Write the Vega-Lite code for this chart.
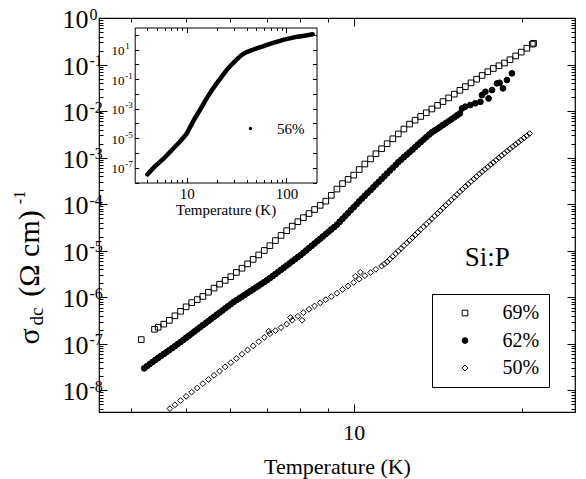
{
"$schema":"https://vega.github.io/schema/vega-lite/v6.json",
"width":476,"height":394,
"autosize":{"type":"none"},
"padding":{"left":99,"top":18,"right":11,"bottom":67},
"background":"white",
"config":{
 "font":"Liberation Serif",
 "view":{"stroke":"black","strokeWidth":1.2},
 "axis":{"grid":false,"domain":false,"domainColor":"black","domainWidth":1,"tickColor":"black","tickWidth":1,"labelColor":"black","titleColor":"black","labelFont":"Liberation Serif","titleFont":"Liberation Serif","titleFontWeight":"normal","labelFlush":false,"labelOverlap":false},
 "legend":{"labelFont":"Liberation Serif","labelColor":"black"},
 "text":{"font":"Liberation Serif","color":"black"}
},
"datasets":{
"note":[{"label":"Si:P","T":17.35,"sigma":4.64e-6}],
"inset":[
{"series":"56%","T":4.02,"sigma":3.53e-8},{"series":"56%","T":4.79,"sigma":1.23e-7},{"series":"56%","T":5.80,"sigma":3.94e-7},{"series":"56%","T":7.32,"sigma":2.02e-6},{"series":"56%","T":8.56,"sigma":6.03e-6},{"series":"56%","T":10.0,"sigma":2.09e-5},{"series":"56%","T":10.80,"sigma":5.75e-5},{"series":"56%","T":11.85,"sigma":1.85e-4},{"series":"56%","T":13.62,"sigma":8.77e-4},{"series":"56%","T":15.92,"sigma":5.42e-3},{"series":"56%","T":17.89,"sigma":1.83e-2},{"series":"56%","T":20.09,"sigma":5.60e-2},{"series":"56%","T":22.57,"sigma":0.161},{"series":"56%","T":25.35,"sigma":0.445},{"series":"56%","T":28.48,"sigma":1.05},{"series":"56%","T":31.99,"sigma":2.28},{"series":"56%","T":35.37,"sigma":4.25},{"series":"56%","T":38.82,"sigma":6.27},{"series":"56%","T":43.60,"sigma":8.55},{"series":"56%","T":50.93,"sigma":12.6},{"series":"56%","T":58.98,"sigma":17.3},{"series":"56%","T":69.3,"sigma":25.5},{"series":"56%","T":81.1,"sigma":34.8},{"series":"56%","T":94.6,"sigma":47.4},{"series":"56%","T":110.4,"sigma":60.0},{"series":"56%","T":129.1,"sigma":75.7},{"series":"56%","T":150.6,"sigma":88.5},{"series":"56%","T":183.2,"sigma":111.7}
],
"main":[
{"series":"69%","T":4.166,"sigma":1.23e-7},{"series":"69%","T":4.40,"sigma":2.05e-7},{"series":"69%","T":4.467,"sigma":2.27e-7},{"series":"69%","T":4.571,"sigma":2.64e-7},{"series":"69%","T":4.677,"sigma":3.19e-7},{"series":"69%","T":4.786,"sigma":3.99e-7},{"series":"69%","T":4.898,"sigma":4.99e-7},{"series":"69%","T":5.012,"sigma":6.22e-7},{"series":"69%","T":5.129,"sigma":7.67e-7},{"series":"69%","T":5.248,"sigma":8.89e-7},{"series":"69%","T":5.370,"sigma":1.04e-6},{"series":"69%","T":5.495,"sigma":1.28e-6},{"series":"69%","T":5.623,"sigma":1.57e-6},{"series":"69%","T":5.754,"sigma":1.91e-6},{"series":"69%","T":5.888,"sigma":2.30e-6},{"series":"69%","T":6.026,"sigma":2.77e-6},{"series":"69%","T":6.166,"sigma":3.41e-6},{"series":"69%","T":6.310,"sigma":4.20e-6},{"series":"69%","T":6.457,"sigma":5.21e-6},{"series":"69%","T":6.607,"sigma":6.50e-6},{"series":"69%","T":6.761,"sigma":8.11e-6},{"series":"69%","T":6.918,"sigma":1.01e-5},{"series":"69%","T":7.079,"sigma":1.28e-5},{"series":"69%","T":7.244,"sigma":1.65e-5},{"series":"69%","T":7.413,"sigma":2.13e-5},{"series":"69%","T":7.586,"sigma":2.69e-5},{"series":"69%","T":7.762,"sigma":3.37e-5},{"series":"69%","T":7.943,"sigma":4.20e-5},{"series":"69%","T":8.128,"sigma":5.13e-5},{"series":"69%","T":8.318,"sigma":6.28e-5},{"series":"69%","T":8.511,"sigma":7.67e-5},{"series":"69%","T":8.710,"sigma":9.44e-5},{"series":"69%","T":8.913,"sigma":1.16e-4},{"series":"69%","T":9.120,"sigma":1.55e-4},{"series":"69%","T":9.333,"sigma":2.11e-4},{"series":"69%","T":9.550,"sigma":2.77e-4},{"series":"69%","T":9.772,"sigma":3.42e-4},{"series":"69%","T":10.00,"sigma":4.21e-4},{"series":"69%","T":10.23,"sigma":5.55e-4},{"series":"69%","T":10.47,"sigma":7.28e-4},{"series":"69%","T":10.72,"sigma":9.38e-4},{"series":"69%","T":10.96,"sigma":1.21e-3},{"series":"69%","T":11.22,"sigma":1.55e-3},{"series":"69%","T":11.48,"sigma":1.99e-3},{"series":"69%","T":11.75,"sigma":2.54e-3},{"series":"69%","T":12.02,"sigma":3.23e-3},{"series":"69%","T":12.30,"sigma":4.12e-3},{"series":"69%","T":12.59,"sigma":5.25e-3},{"series":"69%","T":12.88,"sigma":6.37e-3},{"series":"69%","T":13.18,"sigma":7.66e-3},{"series":"69%","T":13.49,"sigma":9.20e-3},{"series":"69%","T":13.80,"sigma":1.11e-2},{"series":"69%","T":14.13,"sigma":1.33e-2},{"series":"69%","T":14.45,"sigma":1.60e-2},{"series":"69%","T":14.79,"sigma":1.92e-2},{"series":"69%","T":15.14,"sigma":2.31e-2},{"series":"69%","T":15.49,"sigma":2.79e-2},{"series":"69%","T":15.85,"sigma":3.35e-2},{"series":"69%","T":16.22,"sigma":4.04e-2},{"series":"69%","T":16.60,"sigma":4.85e-2},{"series":"69%","T":16.98,"sigma":5.83e-2},{"series":"69%","T":17.38,"sigma":7.01e-2},{"series":"69%","T":17.78,"sigma":8.22e-2},{"series":"69%","T":18.20,"sigma":9.42e-2},{"series":"69%","T":18.62,"sigma":0.108},{"series":"69%","T":19.05,"sigma":0.127},{"series":"69%","T":19.50,"sigma":0.153},{"series":"69%","T":19.95,"sigma":0.185},{"series":"69%","T":20.42,"sigma":0.224},{"series":"69%","T":20.89,"sigma":0.274},{"series":"69%","T":20.99,"sigma":0.286},
{"series":"62%","T":4.217,"sigma":2.97e-8},{"series":"62%","T":4.266,"sigma":3.30e-8},{"series":"62%","T":4.315,"sigma":3.66e-8},{"series":"62%","T":4.365,"sigma":4.06e-8},{"series":"62%","T":4.416,"sigma":4.49e-8},{"series":"62%","T":4.467,"sigma":4.97e-8},{"series":"62%","T":4.519,"sigma":5.47e-8},{"series":"62%","T":4.571,"sigma":6.03e-8},{"series":"62%","T":4.624,"sigma":6.64e-8},{"series":"62%","T":4.677,"sigma":7.31e-8},{"series":"62%","T":4.732,"sigma":8.05e-8},{"series":"62%","T":4.786,"sigma":8.89e-8},{"series":"62%","T":4.842,"sigma":9.86e-8},{"series":"62%","T":4.898,"sigma":1.09e-7},{"series":"62%","T":4.955,"sigma":1.21e-7},{"series":"62%","T":5.012,"sigma":1.35e-7},{"series":"62%","T":5.070,"sigma":1.49e-7},{"series":"62%","T":5.129,"sigma":1.66e-7},{"series":"62%","T":5.188,"sigma":1.84e-7},{"series":"62%","T":5.248,"sigma":2.04e-7},{"series":"62%","T":5.309,"sigma":2.26e-7},{"series":"62%","T":5.370,"sigma":2.51e-7},{"series":"62%","T":5.433,"sigma":2.78e-7},{"series":"62%","T":5.495,"sigma":3.08e-7},{"series":"62%","T":5.559,"sigma":3.43e-7},{"series":"62%","T":5.623,"sigma":3.80e-7},{"series":"62%","T":5.689,"sigma":4.22e-7},{"series":"62%","T":5.754,"sigma":4.68e-7},{"series":"62%","T":5.821,"sigma":5.19e-7},{"series":"62%","T":5.888,"sigma":5.77e-7},{"series":"62%","T":5.957,"sigma":6.40e-7},{"series":"62%","T":6.026,"sigma":7.10e-7},{"series":"62%","T":6.095,"sigma":7.87e-7},{"series":"62%","T":6.166,"sigma":8.63e-7},{"series":"62%","T":6.237,"sigma":9.44e-7},{"series":"62%","T":6.310,"sigma":1.03e-6},{"series":"62%","T":6.383,"sigma":1.13e-6},{"series":"62%","T":6.457,"sigma":1.24e-6},{"series":"62%","T":6.531,"sigma":1.35e-6},{"series":"62%","T":6.607,"sigma":1.48e-6},{"series":"62%","T":6.683,"sigma":1.62e-6},{"series":"62%","T":6.761,"sigma":1.77e-6},{"series":"62%","T":6.839,"sigma":1.94e-6},{"series":"62%","T":6.918,"sigma":2.12e-6},{"series":"62%","T":6.998,"sigma":2.32e-6},{"series":"62%","T":7.079,"sigma":2.57e-6},{"series":"62%","T":7.161,"sigma":2.85e-6},{"series":"62%","T":7.244,"sigma":3.16e-6},{"series":"62%","T":7.328,"sigma":3.51e-6},{"series":"62%","T":7.413,"sigma":3.89e-6},{"series":"62%","T":7.499,"sigma":4.32e-6},{"series":"62%","T":7.586,"sigma":4.79e-6},{"series":"62%","T":7.674,"sigma":5.31e-6},{"series":"62%","T":7.762,"sigma":5.90e-6},{"series":"62%","T":7.852,"sigma":6.55e-6},{"series":"62%","T":7.943,"sigma":7.26e-6},{"series":"62%","T":8.035,"sigma":8.05e-6},{"series":"62%","T":8.128,"sigma":9.04e-6},{"series":"62%","T":8.222,"sigma":1.01e-5},{"series":"62%","T":8.318,"sigma":1.14e-5},{"series":"62%","T":8.414,"sigma":1.28e-5},{"series":"62%","T":8.511,"sigma":1.43e-5},{"series":"62%","T":8.610,"sigma":1.61e-5},{"series":"62%","T":8.710,"sigma":1.80e-5},{"series":"62%","T":8.810,"sigma":2.02e-5},{"series":"62%","T":8.913,"sigma":2.27e-5},{"series":"62%","T":9.016,"sigma":2.55e-5},{"series":"62%","T":9.120,"sigma":2.86e-5},{"series":"62%","T":9.226,"sigma":3.21e-5},{"series":"62%","T":9.333,"sigma":3.62e-5},{"series":"62%","T":9.441,"sigma":4.19e-5},{"series":"62%","T":9.550,"sigma":4.83e-5},{"series":"62%","T":9.661,"sigma":5.58e-5},{"series":"62%","T":9.772,"sigma":6.44e-5},{"series":"62%","T":9.886,"sigma":7.45e-5},{"series":"62%","T":10.00,"sigma":8.59e-5},{"series":"62%","T":10.12,"sigma":9.93e-5},{"series":"62%","T":10.23,"sigma":1.15e-4},{"series":"62%","T":10.35,"sigma":1.32e-4},{"series":"62%","T":10.47,"sigma":1.52e-4},{"series":"62%","T":10.59,"sigma":1.75e-4},{"series":"62%","T":10.72,"sigma":2.00e-4},{"series":"62%","T":10.84,"sigma":2.30e-4},{"series":"62%","T":10.96,"sigma":2.64e-4},{"series":"62%","T":11.09,"sigma":3.03e-4},{"series":"62%","T":11.22,"sigma":3.48e-4},{"series":"62%","T":11.35,"sigma":4.00e-4},{"series":"62%","T":11.48,"sigma":4.59e-4},{"series":"62%","T":11.61,"sigma":5.27e-4},{"series":"62%","T":11.75,"sigma":6.05e-4},{"series":"62%","T":11.89,"sigma":6.95e-4},{"series":"62%","T":12.02,"sigma":7.96e-4},{"series":"62%","T":12.16,"sigma":9.02e-4},{"series":"62%","T":12.30,"sigma":1.02e-3},{"series":"62%","T":12.45,"sigma":1.16e-3},{"series":"62%","T":12.59,"sigma":1.31e-3},{"series":"62%","T":12.74,"sigma":1.48e-3},{"series":"62%","T":12.88,"sigma":1.68e-3},{"series":"62%","T":13.03,"sigma":1.90e-3},{"series":"62%","T":13.18,"sigma":2.15e-3},{"series":"62%","T":13.34,"sigma":2.44e-3},{"series":"62%","T":13.49,"sigma":2.76e-3},{"series":"62%","T":13.65,"sigma":3.13e-3},{"series":"62%","T":13.80,"sigma":3.48e-3},{"series":"62%","T":13.96,"sigma":3.82e-3},{"series":"62%","T":14.13,"sigma":4.19e-3},{"series":"62%","T":14.29,"sigma":4.59e-3},{"series":"62%","T":14.45,"sigma":5.04e-3},{"series":"62%","T":14.62,"sigma":5.52e-3},{"series":"62%","T":14.79,"sigma":6.05e-3},{"series":"62%","T":14.96,"sigma":6.65e-3},{"series":"62%","T":15.14,"sigma":7.33e-3},{"series":"62%","T":15.31,"sigma":8.07e-3},{"series":"62%","T":15.49,"sigma":8.89e-3},{"series":"62%","T":15.63,"sigma":1.14e-2},{"series":"62%","T":15.84,"sigma":1.24e-2},{"series":"62%","T":16.17,"sigma":1.35e-2},{"series":"62%","T":16.51,"sigma":1.47e-2},{"series":"62%","T":16.86,"sigma":1.58e-2},{"series":"62%","T":16.97,"sigma":2.21e-2},{"series":"62%","T":17.21,"sigma":2.60e-2},{"series":"62%","T":17.44,"sigma":1.87e-2},{"series":"62%","T":17.69,"sigma":2.83e-2},{"series":"62%","T":18.05,"sigma":3.94e-2},{"series":"62%","T":18.25,"sigma":4.06e-2},{"series":"62%","T":18.50,"sigma":3.08e-2},{"series":"62%","T":18.81,"sigma":4.65e-2},{"series":"62%","T":19.20,"sigma":6.47e-2},
{"series":"50%","T":4.687,"sigma":4.04e-9},{"series":"50%","T":4.786,"sigma":4.89e-9},{"series":"50%","T":4.898,"sigma":6.03e-9},{"series":"50%","T":5.012,"sigma":7.41e-9},{"series":"50%","T":5.129,"sigma":9.14e-9},{"series":"50%","T":5.248,"sigma":1.12e-8},{"series":"50%","T":5.370,"sigma":1.39e-8},{"series":"50%","T":5.495,"sigma":1.71e-8},{"series":"50%","T":5.623,"sigma":2.10e-8},{"series":"50%","T":5.754,"sigma":2.59e-8},{"series":"50%","T":5.888,"sigma":3.19e-8},{"series":"50%","T":6.026,"sigma":3.93e-8},{"series":"50%","T":6.166,"sigma":4.84e-8},{"series":"50%","T":6.310,"sigma":5.96e-8},{"series":"50%","T":6.457,"sigma":7.35e-8},{"series":"50%","T":6.607,"sigma":9.04e-8},{"series":"50%","T":6.761,"sigma":1.11e-7},{"series":"50%","T":6.918,"sigma":1.37e-7},{"series":"50%","T":7.079,"sigma":1.64e-7},{"series":"50%","T":7.244,"sigma":1.91e-7},{"series":"50%","T":7.413,"sigma":2.23e-7},{"series":"50%","T":7.586,"sigma":2.65e-7},{"series":"50%","T":7.762,"sigma":3.21e-7},{"series":"50%","T":7.943,"sigma":3.90e-7},{"series":"50%","T":8.128,"sigma":4.66e-7},{"series":"50%","T":8.318,"sigma":5.50e-7},{"series":"50%","T":8.511,"sigma":6.49e-7},{"series":"50%","T":8.710,"sigma":7.60e-7},{"series":"50%","T":8.913,"sigma":8.87e-7},{"series":"50%","T":9.120,"sigma":1.03e-6},{"series":"50%","T":9.333,"sigma":1.22e-6},{"series":"50%","T":9.550,"sigma":1.47e-6},{"series":"50%","T":9.772,"sigma":1.75e-6},{"series":"50%","T":10.00,"sigma":2.08e-6},{"series":"50%","T":10.23,"sigma":2.45e-6},{"series":"50%","T":10.47,"sigma":2.90e-6},{"series":"50%","T":10.72,"sigma":3.40e-6},{"series":"50%","T":10.96,"sigma":3.98e-6},{"series":"50%","T":11.22,"sigma":4.68e-6},{"series":"50%","T":11.35,"sigma":5.15e-6},{"series":"50%","T":11.48,"sigma":5.77e-6},{"series":"50%","T":11.61,"sigma":6.59e-6},{"series":"50%","T":11.75,"sigma":7.53e-6},{"series":"50%","T":11.89,"sigma":8.59e-6},{"series":"50%","T":12.02,"sigma":9.82e-6},{"series":"50%","T":12.16,"sigma":1.12e-5},{"series":"50%","T":12.30,"sigma":1.28e-5},{"series":"50%","T":12.45,"sigma":1.47e-5},{"series":"50%","T":12.59,"sigma":1.67e-5},{"series":"50%","T":12.74,"sigma":1.91e-5},{"series":"50%","T":12.88,"sigma":2.18e-5},{"series":"50%","T":13.03,"sigma":2.49e-5},{"series":"50%","T":13.18,"sigma":2.85e-5},{"series":"50%","T":13.34,"sigma":3.26e-5},{"series":"50%","T":13.49,"sigma":3.72e-5},{"series":"50%","T":13.65,"sigma":4.26e-5},{"series":"50%","T":13.80,"sigma":4.85e-5},{"series":"50%","T":13.96,"sigma":5.55e-5},{"series":"50%","T":14.13,"sigma":6.34e-5},{"series":"50%","T":14.29,"sigma":7.24e-5},{"series":"50%","T":14.45,"sigma":8.28e-5},{"series":"50%","T":14.62,"sigma":9.46e-5},{"series":"50%","T":14.79,"sigma":1.08e-4},{"series":"50%","T":14.96,"sigma":1.23e-4},{"series":"50%","T":15.14,"sigma":1.41e-4},{"series":"50%","T":15.31,"sigma":1.61e-4},{"series":"50%","T":15.49,"sigma":1.84e-4},{"series":"50%","T":15.67,"sigma":2.10e-4},{"series":"50%","T":15.85,"sigma":2.39e-4},{"series":"50%","T":16.03,"sigma":2.70e-4},{"series":"50%","T":16.22,"sigma":3.06e-4},{"series":"50%","T":16.41,"sigma":3.46e-4},{"series":"50%","T":16.60,"sigma":3.92e-4},{"series":"50%","T":16.79,"sigma":4.44e-4},{"series":"50%","T":16.98,"sigma":4.99e-4},{"series":"50%","T":17.18,"sigma":5.60e-4},{"series":"50%","T":17.38,"sigma":6.28e-4},{"series":"50%","T":17.58,"sigma":7.05e-4},{"series":"50%","T":17.78,"sigma":7.91e-4},{"series":"50%","T":17.99,"sigma":8.87e-4},{"series":"50%","T":18.20,"sigma":9.93e-4},{"series":"50%","T":18.41,"sigma":1.11e-3},{"series":"50%","T":18.62,"sigma":1.24e-3},{"series":"50%","T":18.84,"sigma":1.39e-3},{"series":"50%","T":19.05,"sigma":1.55e-3},{"series":"50%","T":19.28,"sigma":1.73e-3},{"series":"50%","T":19.50,"sigma":1.93e-3},{"series":"50%","T":19.72,"sigma":2.14e-3},{"series":"50%","T":19.95,"sigma":2.39e-3},{"series":"50%","T":20.18,"sigma":2.65e-3},{"series":"50%","T":20.42,"sigma":2.95e-3},{"series":"50%","T":20.65,"sigma":3.29e-3},{"series":"50%","T":7.045,"sigma":1.86e-7},{"series":"50%","T":7.706,"sigma":3.66e-7},{"series":"50%","T":8.084,"sigma":3.20e-7},{"series":"50%","T":10.07,"sigma":2.83e-6},{"series":"50%","T":10.28,"sigma":3.45e-6}
]},
"layer":[
{"data":{"name":"main"},
 "mark":{"type":"point","strokeWidth":1,"opacity":1},
 "encoding":{
  "x":{"field":"T","type":"quantitative","scale":{"type":"log","domain":[3.5,24.9]},
   "axis":{"orient":"bottom","values":[10],"tickSize":-8,"labelExpr":"'10'","labelFontSize":22,"labelBaseline":"alphabetic","labelPadding":35.3,"title":"Temperature (K)","titleFontSize":22,"titleX":238,"titleY":61,"titleAlign":"center","titleBaseline":"alphabetic"}},
  "y":{"field":"sigma","type":"quantitative","scale":{"type":"log","domain":[3.42e-9,1]},
   "axis":{"orient":"left","values":[1e-8,1e-7,1e-6,1e-5,1e-4,0.001,0.01,0.1,1],"tickSize":-8,"labelExpr":"'10'","labelFontSize":26,"labelAlign":"right","labelBaseline":"alphabetic","labelOffset":9.5,"labelPadding":19,"title":"σ","titleFontSize":30,"titleAngle":-90,"titleX":-61,"titleY":318,"titleAlign":"center","titleBaseline":"alphabetic"}},
  "shape":{"field":"series","type":"nominal","scale":{"domain":["69%","62%","50%"],"range":["square","circle","diamond"]},
   "legend":{"orient":"none","legendX":333,"legendY":276,"title":null,"strokeColor":"black","padding":9,"labelFontSize":20,"symbolOffset":14,"labelOffset":27.5,"rowPadding":7.5,"symbolStrokeWidth":1,"fillColor":"white"}},
  "fill":{"field":"series","type":"nominal","scale":{"domain":["69%","62%","50%"],"range":["transparent","black","transparent"]},
   "legend":{"orient":"none","legendX":333,"legendY":276,"title":null,"strokeColor":"black","padding":9,"labelFontSize":20,"symbolOffset":14,"labelOffset":27.5,"rowPadding":7.5,"symbolStrokeWidth":1,"fillColor":"white"}},
  "stroke":{"field":"series","type":"nominal","scale":{"domain":["69%","62%","50%"],"range":["black","black","black"]},
   "legend":{"orient":"none","legendX":333,"legendY":276,"title":null,"strokeColor":"black","padding":9,"labelFontSize":20,"symbolOffset":14,"labelOffset":27.5,"rowPadding":7.5,"symbolStrokeWidth":1,"fillColor":"white"}},
  "size":{"field":"series","type":"nominal","scale":{"domain":["69%","62%","50%"],"range":[32,34,52]},
   "legend":{"orient":"none","legendX":333,"legendY":276,"title":null,"strokeColor":"black","padding":9,"labelFontSize":20,"symbolOffset":14,"labelOffset":27.5,"rowPadding":7.5,"symbolStrokeWidth":1,"fillColor":"white"}}
 }},
{"data":{"name":"main"},
 "transform":[{"aggregate":[{"op":"max","field":"T","as":"T"},{"op":"max","field":"sigma","as":"sigma"}]}],
 "mark":{"type":"point","opacity":0},
 "encoding":{
  "x":{"field":"T","type":"quantitative","scale":{"type":"log","domain":[3.5,24.9]},
   "axis":{"orient":"bottom","values":[4,5,6,7,8,9,20],"tickSize":-4,"labels":false,"title":null}},
  "y":{"field":"sigma","type":"quantitative","scale":{"type":"log","domain":[3.42e-9,1]},
   "axis":{"orient":"left","values":[4e-9,5e-9,6e-9,7e-9,8e-9,9e-9,2e-8,3e-8,4e-8,5e-8,6e-8,7e-8,8e-8,9e-8,2e-7,3e-7,4e-7,5e-7,6e-7,7e-7,8e-7,9e-7,2e-6,3e-6,4e-6,5e-6,6e-6,7e-6,8e-6,9e-6,2e-5,3e-5,4e-5,5e-5,6e-5,7e-5,8e-5,9e-5,2e-4,3e-4,4e-4,5e-4,6e-4,7e-4,8e-4,9e-4,0.002,0.003,0.004,0.005,0.006,0.007,0.008,0.009,0.02,0.03,0.04,0.05,0.06,0.07,0.08,0.09,0.2,0.3,0.4,0.5,0.6,0.7,0.8,0.9],"tickSize":-4,"labels":false,
    "title":"dc","titleFontSize":19,"titleAngle":-90,"titleX":-57,"titleY":298,"titleAlign":"center","titleBaseline":"alphabetic"}}
 }},
{"data":{"name":"main"},
 "transform":[{"aggregate":[{"op":"max","field":"T","as":"T"},{"op":"max","field":"sigma","as":"sigma"}]}],
 "mark":{"type":"point","opacity":0},
 "encoding":{
  "x":{"field":"T","type":"quantitative","scale":{"type":"log","domain":[3.5,24.9]},
   "axis":{"orient":"top","values":[10],"tickSize":-8,"labels":false,"title":null}},
  "y":{"field":"sigma","type":"quantitative","scale":{"type":"log","domain":[3.42e-9,1]},
   "axis":{"orient":"left","values":[1e-8,1e-7,1e-6,1e-5,1e-4,0.001,0.01,0.1,1],"tickSize":0,"tickOpacity":0,"labelExpr":"'' + round(log(datum.value)/LN10)","labelFontSize":16,"labelAlign":"left","labelBaseline":"alphabetic","labelOffset":1,"labelPadding":10,
    "title":"(Ω cm)","titleFontSize":30,"titleAngle":-90,"titleX":-61,"titleY":235,"titleAlign":"center","titleBaseline":"alphabetic"}}
 }},
{"data":{"name":"main"},
 "transform":[{"aggregate":[{"op":"max","field":"T","as":"T"},{"op":"max","field":"sigma","as":"sigma"}]}],
 "mark":{"type":"point","opacity":0},
 "encoding":{
  "x":{"field":"T","type":"quantitative","scale":{"type":"log","domain":[3.5,24.9]},
   "axis":{"orient":"top","values":[4,5,6,7,8,9,20],"tickSize":-4,"labels":false,"title":null}},
  "y":{"field":"sigma","type":"quantitative","scale":{"type":"log","domain":[3.42e-9,1]},
   "axis":{"orient":"right","values":[1e-8,1e-7,1e-6,1e-5,1e-4,0.001,0.01,0.1,1],"tickSize":-8,"labels":false,
    "title":"-1","titleFontSize":16,"titleAngle":-90,"titleX":-551,"titleY":179,"titleAlign":"center","titleBaseline":"alphabetic"}}
 }},
{"data":{"name":"main"},
 "transform":[{"aggregate":[{"op":"max","field":"T","as":"T"},{"op":"max","field":"sigma","as":"sigma"}]}],
 "mark":{"type":"point","opacity":0},
 "encoding":{
  "x":{"field":"T","type":"quantitative","scale":{"type":"log","domain":[3.5,24.9]},"axis":null},
  "y":{"field":"sigma","type":"quantitative","scale":{"type":"log","domain":[3.42e-9,1]},
   "axis":{"orient":"right","values":[4e-9,5e-9,6e-9,7e-9,8e-9,9e-9,2e-8,3e-8,4e-8,5e-8,6e-8,7e-8,8e-8,9e-8,2e-7,3e-7,4e-7,5e-7,6e-7,7e-7,8e-7,9e-7,2e-6,3e-6,4e-6,5e-6,6e-6,7e-6,8e-6,9e-6,2e-5,3e-5,4e-5,5e-5,6e-5,7e-5,8e-5,9e-5,2e-4,3e-4,4e-4,5e-4,6e-4,7e-4,8e-4,9e-4,0.002,0.003,0.004,0.005,0.006,0.007,0.008,0.009,0.02,0.03,0.04,0.05,0.06,0.07,0.08,0.09,0.2,0.3,0.4,0.5,0.6,0.7,0.8,0.9],"tickSize":-4,"labels":false,"title":null}}
 }},
{"data":{"name":"note"},
 "mark":{"type":"text","fontSize":27,"align":"center","baseline":"alphabetic","font":"Liberation Serif","color":"black"},
 "encoding":{
  "x":{"field":"T","type":"quantitative","scale":{"type":"log","domain":[3.5,24.9]},"axis":null},
  "y":{"field":"sigma","type":"quantitative","scale":{"type":"log","domain":[3.42e-9,1]},"axis":null},
  "text":{"field":"label"}
 }},
{"data":{"name":"inset"},
 "mark":{"type":"line","strokeWidth":4.5,"strokeCap":"round","strokeJoin":"round"},
 "encoding":{
  "x":{"field":"T","type":"quantitative","scale":{"type":"log","domain":[3,200],"range":[35.7,217.5]},
   "axis":{"orient":"bottom","offset":-229.5,"domain":true,"values":[10,100],"tickSize":-5,"labelExpr":"datum.value > 50 ? '100' : '10'","labelFontSize":15,"labelBaseline":"alphabetic","labelPadding":20.5,"title":"Temperature (K)","titleFontSize":15,"titleX":126.6,"titleY":32,"titleAlign":"center","titleBaseline":"alphabetic"}},
  "y":{"field":"sigma","type":"quantitative","scale":{"type":"log","domain":[1e-8,316.2],"range":[164.5,9.5]},
   "axis":{"orient":"left","offset":-35.7,"domain":true,"values":[1e-8,1e-7,1e-6,1e-5,1e-4,0.001,0.01,0.1,1,10,100],"tickSize":-4,"labelExpr":"abs(round(log(datum.value)/LN10)) % 2 == 1 ? '10' : ''","labelFontSize":13,"labelAlign":"right","labelBaseline":"alphabetic","labelOffset":5,"labelPadding":14.7,"title":null}},
  "color":{"field":"series","type":"nominal","scale":{"range":["black"]},
   "legend":{"orient":"none","legendX":144,"legendY":103,"title":null,"padding":0,"labelFontSize":15,"labelOffset":19,"symbolType":"circle","symbolSize":12,"symbolFillColor":"black","symbolStrokeWidth":0,"encode":{"symbols":{"update":{"fill":{"value":"black"},"strokeWidth":{"value":0}}}}}}
 }},
{"data":{"name":"inset"},
 "transform":[{"aggregate":[{"op":"max","field":"T","as":"T"},{"op":"max","field":"sigma","as":"sigma"}]}],
 "mark":{"type":"point","opacity":0},
 "encoding":{
  "x":{"field":"T","type":"quantitative","scale":{"type":"log","domain":[3,200],"range":[35.7,217.5]},
   "axis":{"orient":"bottom","offset":-229.5,"values":[4,5,6,7,8,9,20,30,40,50,60,70,80,90],"tickSize":-3,"labels":false,"title":null}},
  "y":{"field":"sigma","type":"quantitative","scale":{"type":"log","domain":[1e-8,316.2],"range":[164.5,9.5]},
   "axis":{"orient":"left","offset":-35.7,"values":[1e-8,1e-7,1e-6,1e-5,1e-4,0.001,0.01,0.1,1,10,100],"tickSize":0,"tickOpacity":0,"labelExpr":"abs(round(log(datum.value)/LN10)) % 2 == 1 ? '' + round(log(datum.value)/LN10) : ''","labelFontSize":9,"labelAlign":"left","labelBaseline":"alphabetic","labelOffset":-1,"labelPadding":10,"title":null}}
 }},
{"data":{"name":"inset"},
 "transform":[{"aggregate":[{"op":"max","field":"T","as":"T"},{"op":"max","field":"sigma","as":"sigma"}]}],
 "mark":{"type":"point","opacity":0},
 "encoding":{
  "x":{"field":"T","type":"quantitative","scale":{"type":"log","domain":[3,200],"range":[35.7,217.5]},
   "axis":{"orient":"top","offset":-9.5,"domain":true,"values":[10,100],"tickSize":-5,"labels":false,"title":null}},
  "y":{"field":"sigma","type":"quantitative","scale":{"type":"log","domain":[1e-8,316.2],"range":[164.5,9.5]},
   "axis":{"orient":"right","offset":-258.5,"domain":true,"values":[1e-8,1e-7,1e-6,1e-5,1e-4,0.001,0.01,0.1,1,10,100],"tickSize":-4,"labels":false,"title":null}}
 }},
{"data":{"name":"inset"},
 "transform":[{"aggregate":[{"op":"max","field":"T","as":"T"},{"op":"max","field":"sigma","as":"sigma"}]}],
 "mark":{"type":"point","opacity":0},
 "encoding":{
  "x":{"field":"T","type":"quantitative","scale":{"type":"log","domain":[3,200],"range":[35.7,217.5]},
   "axis":{"orient":"top","offset":-9.5,"values":[4,5,6,7,8,9,20,30,40,50,60,70,80,90],"tickSize":-3,"labels":false,"title":null}},
  "y":{"field":"sigma","type":"quantitative","scale":{"type":"log","domain":[1e-8,316.2],"range":[164.5,9.5]},"axis":null}
 }}
],
"resolve":{"scale":{"x":"independent","y":"independent"}}
}
